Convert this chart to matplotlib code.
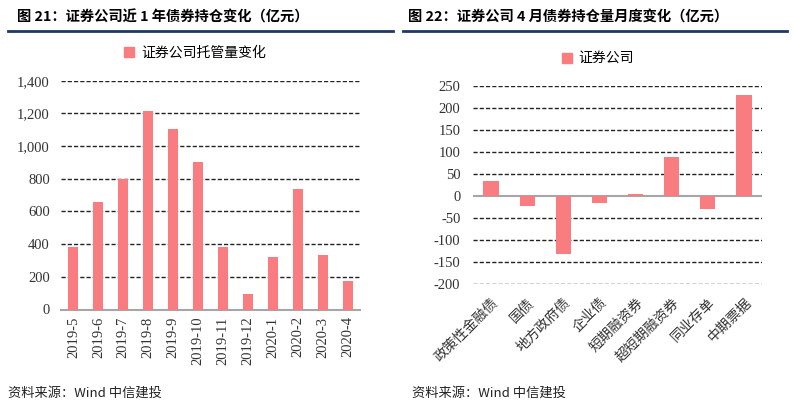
import matplotlib.pyplot as plt
from matplotlib.patches import Patch

plt.rcParams['font.family'] = ['Noto Sans CJK SC', 'DejaVu Sans']

# left chart data
months = ['2019-5', '2019-6', '2019-7', '2019-8', '2019-9', '2019-10', '2019-11',
          '2019-12', '2020-1', '2020-2', '2020-3', '2020-4']
custody_change = [380, 660, 800, 1216, 1104, 905, 383, 95, 322, 738, 336, 172]
left_yticks = [0, 200, 400, 600, 800, 1000, 1200, 1400]
left_yticklabels = ['0', '200', '400', '600', '800', '1,000', '1,200', '1,400']

# right chart data
bond_types = ['政策性金融债', '国债', '地方政府债', '企业债', '短期融资券',
              '超短期融资券', '同业存单', '中期票据']
april_change = [34, -22, -132, -16, 6, 90, -28, 230]
right_yticks = [-200, -150, -100, -50, 0, 50, 100, 150, 200, 250]

bar_color = '#F87C80'
grid_color = '#222222'
num_font = ['Liberation Serif', 'Noto Sans CJK SC']

fig = plt.figure(figsize=(7.94, 4.09), dpi=100)

# titles and header lines
fig.text(17 / 794, 1 - 17 / 409, '图 21：证券公司近 1 年债券持仓变化（亿元）',
         fontsize=10.3, fontweight='bold', va='center', ha='left')
fig.text(408 / 794, 1 - 17 / 409, '图 22：证券公司 4 月债券持仓量月度变化（亿元）',
         fontsize=10.3, fontweight='bold', va='center', ha='left')
fig.add_artist(plt.Line2D([8 / 794, 393 / 794], [1 - 31 / 409] * 2, color='#1F3864', lw=2))
fig.add_artist(plt.Line2D([403 / 794, 787 / 794], [1 - 31 / 409] * 2, color='#1F3864', lw=2))

# source notes
fig.text(8 / 794, 1 - 393 / 409, '资料来源：Wind 中信建投', fontsize=9.5, style='italic',
         va='center', ha='left', color='#222222')
fig.text(412 / 794, 1 - 393 / 409, '资料来源：Wind 中信建投', fontsize=9.5, style='italic',
         va='center', ha='left', color='#222222')

# left chart
ax1 = fig.add_axes([61 / 794, 1 - 309.5 / 409, 299 / 794, 228.8 / 409])
x1 = range(len(months))
ax1.bar(x1, custody_change, width=0.4, color=bar_color, zorder=3)
ax1.set_xlim(-0.5, 11.5)
ax1.set_ylim(0, 1400)
ax1.set_yticks(left_yticks)
ax1.set_yticklabels(left_yticklabels, family=num_font, fontsize=10.5, color='#333333')
ax1.set_xticks(list(x1))
ax1.set_xticklabels(months, rotation=90, family=num_font, fontsize=10.5, color='#333333')
for v in left_yticks[1:]:
    ax1.axhline(v, color=grid_color, lw=1, ls=(0, (3, 1.5)), zorder=1)
for s in ['top', 'right', 'left']:
    ax1.spines[s].set_visible(False)
ax1.spines['bottom'].set_color('#A6A6A6')
ax1.spines['bottom'].set_linewidth(1.5)
ax1.tick_params(length=0)
ax1.tick_params(axis='y', pad=8)
ax1.tick_params(axis='x', pad=5)
ax1.legend(handles=[Patch(color=bar_color, label='证券公司托管量变化')], frameon=False,
           loc='center', bbox_to_anchor=(195 / 794, 1 - 53 / 409),
           bbox_transform=fig.transFigure, fontsize=10, handlelength=0.7,
           handleheight=0.7, handletextpad=0.5)

# right chart
ax2 = fig.add_axes([473 / 794, 1 - 284.3 / 409, 289 / 794, 198.3 / 409])
x2 = range(len(bond_types))
ax2.bar(x2, april_change, width=0.42, color=bar_color, zorder=3)
ax2.set_xlim(-0.5, 7.5)
ax2.set_ylim(-200, 250)
ax2.set_yticks(right_yticks)
ax2.set_yticklabels([str(v) for v in right_yticks], family=num_font, fontsize=10.5,
                    color='#333333')
ax2.set_xticks(list(x2))
ax2.set_xticklabels(bond_types, rotation=45, ha='right', rotation_mode='anchor',
                    fontsize=10, color='#333333')
for v in right_yticks:
    if v != 0:
        ax2.axhline(v, color=grid_color, lw=1, ls=(0, (3, 1.5)), zorder=1)
ax2.axhline(0, color='#A6A6A6', lw=1.5, zorder=2)
for s in ['top', 'right', 'left', 'bottom']:
    ax2.spines[s].set_visible(False)
ax2.tick_params(length=0)
ax2.tick_params(axis='y', pad=9)
ax2.tick_params(axis='x', pad=8)
ax2.legend(handles=[Patch(color=bar_color, label='证券公司')], frameon=False,
           loc='center', bbox_to_anchor=(598 / 794, 1 - 59 / 409),
           bbox_transform=fig.transFigure, fontsize=10, handlelength=0.7,
           handleheight=0.7, handletextpad=0.5)

fig.savefig('out.png', dpi=100)
